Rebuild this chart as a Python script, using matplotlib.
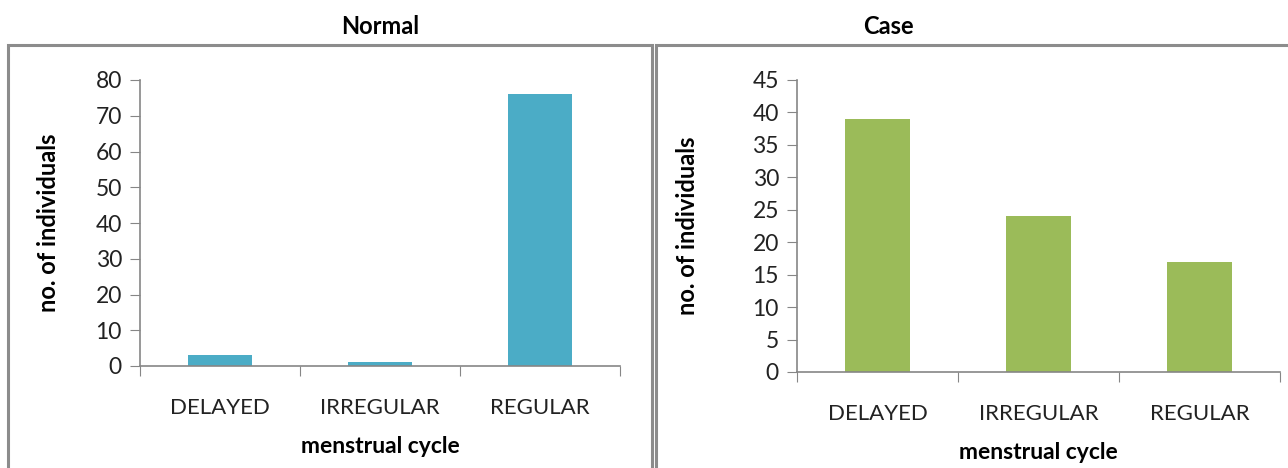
import matplotlib
matplotlib.use('Agg')
import matplotlib.pyplot as plt
from matplotlib.patches import Rectangle
import numpy as np

plt.rcParams['font.family'] = ['Lato', 'DejaVu Sans']

categories = ['DELAYED', 'IRREGULAR', 'REGULAR']
normal_counts = [3, 1, 76]
case_counts = [39, 24, 17]

BLUE = '#4bacc6'
GREEN = '#9bbb59'
AXIS_GREY = '#868686'

W, H = 1288, 468
fig = plt.figure(figsize=(W / 100, H / 100), dpi=100)


def px_axes(x0, y0, x1, y1):
    # pixel box (from top-left) -> figure axes
    return fig.add_axes([x0 / W, 1 - y1 / H, (x1 - x0) / W, (y1 - y0) / H])


def frame(x0, y0, x1, y1):
    fig.patches.append(Rectangle((x0 / W, 1 - y1 / H), (x1 - x0) / W, (y1 - y0) / H,
                                 transform=fig.transFigure, fill=False,
                                 edgecolor='#8c8c8c', linewidth=2.2))


def draw_panel(ax, values, color, ymax, step, ylab_x):
    x = np.arange(len(categories))
    ax.bar(x, values, width=0.4, color=color)
    ax.set_xlim(-0.5, len(categories) - 0.5)
    ax.set_ylim(0, ymax)
    ax.set_yticks(np.arange(0, ymax + 1, step))
    ax.set_xticks(np.arange(-0.5, len(categories), 1.0))
    ax.set_xticklabels([])
    ax.set_xticks(x, minor=True)
    ax.set_xticklabels(categories, minor=True)
    for side in ('top', 'right'):
        ax.spines[side].set_visible(False)
    for side in ('left', 'bottom'):
        ax.spines[side].set_color(AXIS_GREY)
        ax.spines[side].set_linewidth(1.2)
    ax.tick_params(axis='y', which='major', length=7, color=AXIS_GREY,
                   labelsize=16.5, labelcolor='#222222', pad=6)
    ax.tick_params(axis='x', which='major', length=7, color=AXIS_GREY)
    ax.tick_params(axis='x', which='minor', length=0, pad=23,
                   labelsize=16, labelcolor='#222222')
    ax.set_ylabel('no. of individuals', fontsize=17, fontweight='bold')
    ax.yaxis.set_label_coords(ylab_x, 0.5)
    ax.set_xlabel('menstrual cycle', fontsize=16.5, fontweight='bold', labelpad=13)


# panel borders
frame(8, 45, 652, 480)
frame(656, 45, 1300, 480)

ax1 = px_axes(140, 80, 620, 366)
draw_panel(ax1, normal_counts, BLUE, 80, 10, (60 - 140) / 480)
ax2 = px_axes(797, 80, 1280, 372)
draw_panel(ax2, case_counts, GREEN, 45, 5, (699 - 797) / 483)

fig.text(380 / W, 1 - 27 / H, 'Normal', ha='center', va='center',
         fontsize=17, fontweight='bold')
fig.text(888 / W, 1 - 27 / H, 'Case', ha='center', va='center',
         fontsize=17, fontweight='bold')

fig.savefig('out.png', dpi=100)
